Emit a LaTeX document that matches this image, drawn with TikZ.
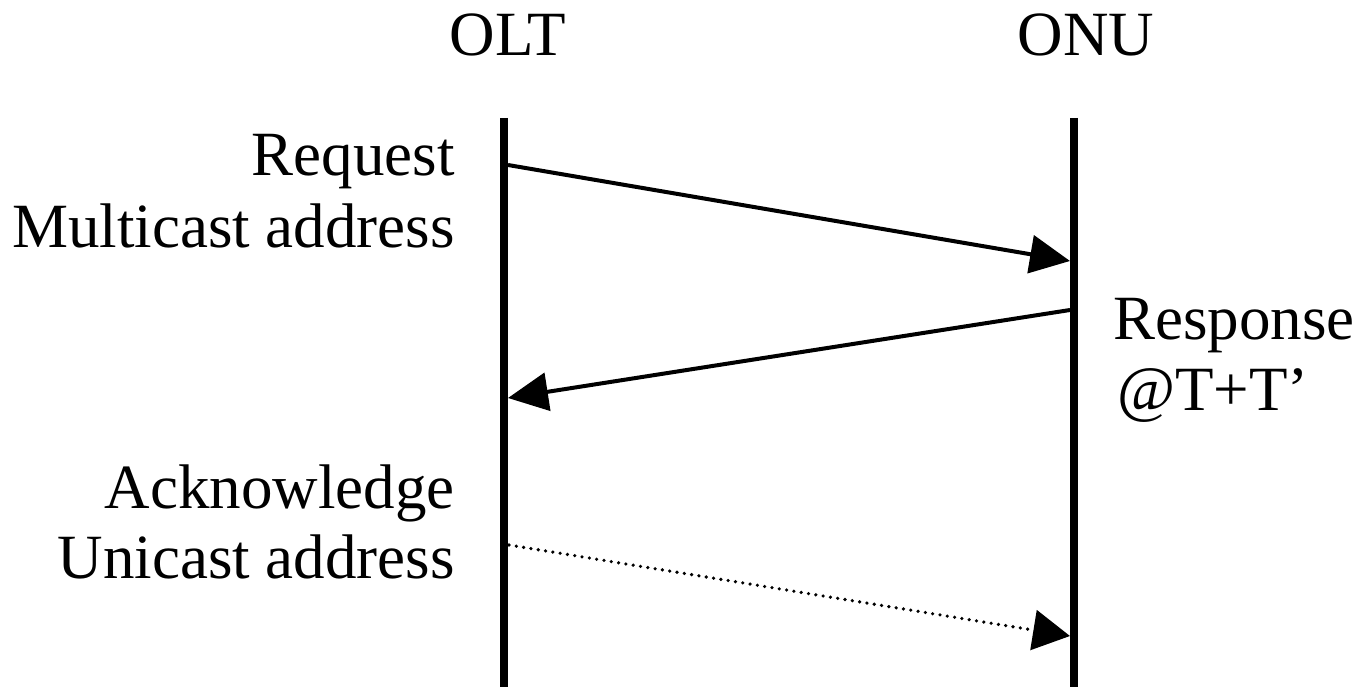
\documentclass[tikz,border=0pt]{standalone}
\usepackage{fontspec}
\setmainfont{Liberation Serif}
\usetikzlibrary{arrows.meta}
\begin{document}
\begin{tikzpicture}[x=1pt,y=-1pt,
  lbl/.style={inner sep=0pt, font=\fontsize{63}{63}\selectfont},
  lifeline/.style={line width=8pt},
  msg/.style={line width=4pt, -{Triangle[length=40pt,width=38pt]}},
  dotmsg/.style={line width=3.6pt, line cap=round, dash pattern=on 0pt off 7.4pt,
     -{Triangle[length=37pt,width=40pt]}}]
\useasboundingbox (0,0) rectangle (1362,687);
% headers
\node[lbl, anchor=base] (olt) at (508,56) {OLT};
\node[lbl, anchor=base] (onu) at (1086,56) {ONU};
% lifelines
\coordinate (oltTop) at (504,118);
\coordinate (oltBot) at (504,687);
\coordinate (onuTop) at (1074,118);
\coordinate (onuBot) at (1074,687);
\draw[lifeline] (oltTop) -- (oltBot);
\draw[lifeline] (onuTop) -- (onuBot);
% message endpoints
\coordinate (m1s) at (508,165);
\coordinate (m1e) at (1070,261);
\coordinate (m2s) at (1070,310);
\coordinate (m2e) at (508,398);
\coordinate (m3s) at (509,545);
\coordinate (m3e) at (1070,636);
\draw[msg] (m1s) -- (m1e);
\draw[msg] (m2s) -- (m2e);
\draw[dotmsg] (m3s) -- (m3e);
% labels
\node[lbl, anchor=base east] (req) at (455,176) {Request};
\node[lbl, anchor=base east] (mca) at (455,247) {Multicast address};
\node[lbl, anchor=base west] (resp) at (1113,339) {Response};
\node[lbl, anchor=base west] (tt) at (1117,410) {@T+T’};
\node[lbl, anchor=base east] (ack) at (455,508) {Acknowledge};
\node[lbl, anchor=base east] (uca) at (455,578) {Unicast address};
\end{tikzpicture}
\end{document}
